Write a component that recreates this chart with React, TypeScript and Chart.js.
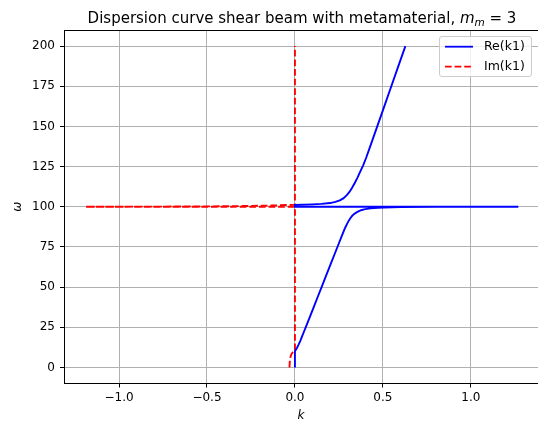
import React, { useEffect, useRef } from 'react';
import { Chart, registerables } from 'chart.js';

Chart.register(...registerables);

// Re(k1): lower branch, return along the resonance, upper branch
const reK = [0, 0, 0.005, 0.012, 0.02, 0.03, 0.04, 0.05, 0.06, 0.08, 0.108, 0.13, 0.155, 0.18, 0.203, 0.227, 0.25, 0.27, 0.285, 0.297, 0.307, 0.316, 0.326, 0.335, 0.35, 0.364, 0.38, 0.4, 0.43, 0.47, 0.506, 0.6, 0.8, 1.0, 1.27,
  0, 0, 0.05, 0.1, 0.15, 0.2, 0.23, 0.255, 0.275, 0.295, 0.31, 0.325, 0.34, 0.355, 0.37, 0.388, 0.405, 0.43, 0.468, 0.508, 0.548, 0.588, 0.628];
const reW = [0, 10, 11, 12.3, 14, 16.4, 19.2, 21.9, 24.6, 30.1, 37.9, 44, 50.9, 57.9, 64.3, 70.9, 77.3, 82.8, 86.8, 89.5, 91.5, 93, 94.4, 95.4, 96.5, 97.3, 98, 98.5, 99, 99.35, 99.55, 99.78, 99.9, 99.95, 99.98,
  100.02, 101.2, 101.3, 101.5, 101.8, 102.3, 103, 104, 105.2, 107.2, 109.2, 111.8, 114.8, 118, 121.5, 125.8, 130.5, 138.2, 150, 162.5, 175, 187.5, 200];

// Im(k1): below cut-off, zero along the pass band, band gap, zero again
const imK = [-0.031, -0.03, -0.028, -0.025, -0.021, -0.015, -0.008, 0, 0, -1.19, -0.9, -0.6, -0.4, -0.25, -0.12, -0.05, 0, 0];
const imW = [0, 2.5, 4.8, 6.6, 8, 9.1, 9.8, 10.1, 100, 100.01, 100.05, 100.15, 100.3, 100.5, 100.8, 101.05, 101.2, 200];

const xTicks = [-1, -0.5, 0, 0.5, 1];
const yTicks = [0, 25, 50, 75, 100, 125, 150, 175, 200];
const seriesLabels = ['Re(k1)', 'Im(k1)'];
const seriesColors = ['#0000ff', '#ff0000'];
const titleMain = 'Dispersion curve shear beam with metamaterial, ';
const titleTail = ' = 3';
const xLabel = 'k';
const yLabel = '\u03c9';

const FONT = "'DejaVu Sans', sans-serif";
const DASH = [6.7, 2.9];

export default function App() {
  const ref = useRef<HTMLCanvasElement>(null);

  useEffect(() => {
    document.body.style.margin = '0';
    const canvas = ref.current;
    if (!canvas) return;

    const decorPlugin = {
      id: 'mplDecor',
      afterDraw(chart: any) {
        const c = chart.ctx as CanvasRenderingContext2D;
        const { left, right, top } = chart.chartArea;
        c.save();
        // top spine
        c.strokeStyle = '#000';
        c.lineWidth = 1;
        c.beginPath();
        c.moveTo(left, top + 0.5);
        c.lineTo(right, top + 0.5);
        c.stroke();

        // title with math part m_m
        const size = 15;
        c.fillStyle = '#000';
        c.textBaseline = 'alphabetic';
        c.textAlign = 'left';
        c.font = `${size}px ${FONT}`;
        const w1 = c.measureText(titleMain).width;
        const wt = c.measureText(titleTail).width;
        c.font = `italic ${size}px ${FONT}`;
        const wm = c.measureText('m').width;
        c.font = `italic ${size * 0.7}px ${FONT}`;
        const ws = c.measureText('m').width;
        const total = w1 + wm + ws + wt;
        const cx = (left + right) / 2 + 1;
        let x = cx - total / 2;
        const by = 23;
        c.font = `${size}px ${FONT}`;
        c.fillText(titleMain, x, by);
        x += w1;
        c.font = `italic ${size}px ${FONT}`;
        c.fillText('m', x, by);
        x += wm;
        c.font = `italic ${size * 0.7}px ${FONT}`;
        c.fillText('m', x, by + 3);
        x += ws;
        c.font = `${size}px ${FONT}`;
        c.fillText(titleTail, x, by);

        // legend
        const bx = 439.5, bY = 36.5, bw = 92, bh = 40, r = 2.5;
        c.beginPath();
        c.moveTo(bx + r, bY);
        c.lineTo(bx + bw - r, bY);
        c.quadraticCurveTo(bx + bw, bY, bx + bw, bY + r);
        c.lineTo(bx + bw, bY + bh - r);
        c.quadraticCurveTo(bx + bw, bY + bh, bx + bw - r, bY + bh);
        c.lineTo(bx + r, bY + bh);
        c.quadraticCurveTo(bx, bY + bh, bx, bY + bh - r);
        c.lineTo(bx, bY + r);
        c.quadraticCurveTo(bx, bY, bx + r, bY);
        c.closePath();
        c.fillStyle = 'rgba(255,255,255,0.8)';
        c.fill();
        c.strokeStyle = '#cccccc';
        c.lineWidth = 1;
        c.stroke();

        const rows = [46.7, 66.7];
        seriesLabels.forEach((lab, i) => {
          c.strokeStyle = seriesColors[i];
          c.lineWidth = 1.8;
          c.setLineDash(i === 1 ? DASH : []);
          c.beginPath();
          c.moveTo(445, rows[i]);
          c.lineTo(473, rows[i]);
          c.stroke();
          c.setLineDash([]);
          c.fillStyle = '#000';
          c.font = `12.5px ${FONT}`;
          c.textBaseline = 'middle';
          c.textAlign = 'left';
          c.fillText(lab, 484, rows[i] + 0.5);
        });
        c.restore();
      },
    };

    const chart = new Chart(canvas, {
      type: 'scatter',
      data: {
        datasets: [
          {
            label: seriesLabels[0],
            data: reK.map((k, i) => ({ x: k, y: reW[i] })),
            borderColor: seriesColors[0],
            backgroundColor: seriesColors[0],
            borderWidth: 1.9,
            pointRadius: 0,
            showLine: true,
            tension: 0,
          },
          {
            label: seriesLabels[1],
            data: imK.map((k, i) => ({ x: k, y: imW[i] })),
            borderColor: seriesColors[1],
            backgroundColor: seriesColors[1],
            borderWidth: 1.9,
            borderDash: DASH,
            pointRadius: 0,
            showLine: true,
            tension: 0,
          },
        ],
      },
      options: {
        responsive: false,
        animation: false,
        devicePixelRatio: 1,
        layout: { padding: { top: 30, left: 0, right: 0, bottom: 0 } },
        plugins: {
          legend: { display: false },
          title: { display: false },
          tooltip: { enabled: false },
        },
        scales: {
          x: {
            type: 'linear',
            min: -1.313,
            max: 1.382,
            afterBuildTicks: (s: any) => {
              s.ticks = xTicks.map((v) => ({ value: v }));
            },
            afterFit: (s: any) => {
              s.height = 39.5;
            },
            ticks: {
              color: '#000',
              padding: 3,
              maxRotation: 0,
              autoSkip: false,
              font: { family: FONT, size: 12 },
              callback: (v: any) => Number(v).toFixed(1).replace('-', '\u2212'),
            },
            grid: {
              color: '#b0b0b0',
              lineWidth: 1,
              drawTicks: true,
              tickLength: 4,
              tickColor: '#000',
              tickWidth: 1,
            },
            border: { display: true, color: '#000', width: 1 },
            title: {
              display: true,
              text: xLabel,
              color: '#000',
              font: { family: FONT, size: 12, style: 'italic' },
              padding: { top: 0, bottom: 0 },
            },
          },
          y: {
            type: 'linear',
            min: -10,
            max: 210,
            afterBuildTicks: (s: any) => {
              s.ticks = yTicks.map((v) => ({ value: v }));
            },
            afterFit: (s: any) => {
              s.width = 64;
            },
            ticks: {
              color: '#000',
              padding: 5,
              autoSkip: false,
              font: { family: FONT, size: 12 },
              callback: (v: any) => String(v),
            },
            grid: {
              color: '#b0b0b0',
              lineWidth: 1,
              drawTicks: true,
              tickLength: 4,
              tickColor: '#000',
              tickWidth: 1,
            },
            border: { display: true, color: '#000', width: 1 },
            title: {
              display: true,
              text: yLabel,
              color: '#000',
              font: { family: FONT, size: 12, style: 'italic' },
              padding: { top: 11, bottom: 0 },
            },
          },
        },
      },
      plugins: [decorPlugin],
    } as any);

    return () => chart.destroy();
  }, []);

  return (
    <div style={{ width: 538, height: 423 }}>
      <canvas ref={ref} width={538} height={423} style={{ display: 'block' }} />
    </div>
  );
}
